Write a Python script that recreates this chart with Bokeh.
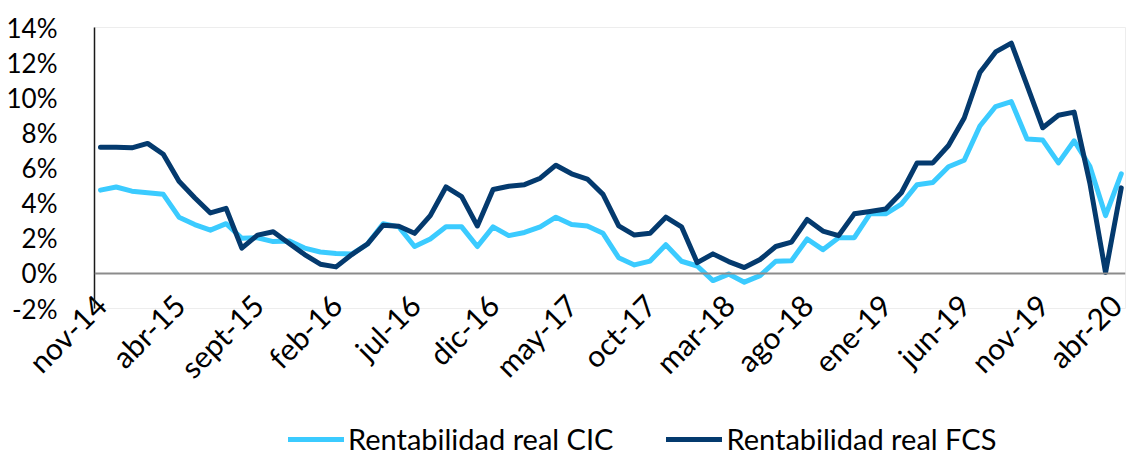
import math
from bokeh.plotting import figure
from bokeh.layouts import column
from bokeh.models import (Range1d, FixedTicker, PrintfTickFormatter, Span, Legend, LegendItem,
                          ColumnDataSource)
from bokeh.embed import file_html
from bokeh.resources import INLINE

months = ["nov-14", "dic-14",
          "ene-15", "feb-15", "mar-15", "abr-15", "may-15", "jun-15", "jul-15", "ago-15", "sept-15", "oct-15", "nov-15", "dic-15",
          "ene-16", "feb-16", "mar-16", "abr-16", "may-16", "jun-16", "jul-16", "ago-16", "sept-16", "oct-16", "nov-16", "dic-16",
          "ene-17", "feb-17", "mar-17", "abr-17", "may-17", "jun-17", "jul-17", "ago-17", "sept-17", "oct-17", "nov-17", "dic-17",
          "ene-18", "feb-18", "mar-18", "abr-18", "may-18", "jun-18", "jul-18", "ago-18", "sept-18", "oct-18", "nov-18", "dic-18",
          "ene-19", "feb-19", "mar-19", "abr-19", "may-19", "jun-19", "jul-19", "ago-19", "sept-19", "oct-19", "nov-19", "dic-19",
          "ene-20", "feb-20", "mar-20", "abr-20"]

cic = [4.74, 4.92, 4.68, 4.59, 4.50, 3.20, 2.78, 2.46, 2.83, 2.00,
       2.03, 1.81, 1.85, 1.44, 1.22, 1.13, 1.10, 1.67, 2.83, 2.65,
       1.53, 1.96, 2.65, 2.65, 1.53, 2.65, 2.15, 2.33, 2.65, 3.20,
       2.78, 2.70, 2.28, 0.89, 0.48, 0.70, 1.63, 0.69, 0.42, -0.41,
       -0.04, -0.50, -0.13, 0.69, 0.72, 1.96, 1.35, 2.03, 2.03, 3.39,
       3.39, 3.94, 5.05, 5.18, 6.07, 6.44, 8.39, 9.50, 9.78, 7.65,
       7.59, 6.29, 7.55, 6.10, 3.29, 5.67]

fcs = [7.18, 7.18, 7.15, 7.40, 6.78, 5.24, 4.31, 3.44, 3.70, 1.44,
       2.18, 2.37, 1.72, 1.07, 0.52, 0.37, 1.07, 1.67, 2.74, 2.68,
       2.28, 3.29, 4.92, 4.37, 2.70, 4.78, 4.96, 5.05, 5.42, 6.16,
       5.67, 5.37, 4.50, 2.70, 2.18, 2.28, 3.20, 2.65, 0.61, 1.11,
       0.67, 0.33, 0.79, 1.53, 1.78, 3.07, 2.41, 2.15, 3.39, 3.52,
       3.67, 4.59, 6.29, 6.29, 7.28, 8.85, 11.44, 12.61, 13.11, 10.70,
       8.29, 9.00, 9.18, 5.14, 0.05, 4.87]

series_names = ["Rentabilidad real CIC", "Rentabilidad real FCS"]
y_ticks = [-2, 0, 2, 4, 6, 8, 10, 12, 14]

FONT = "Lato"
LIGHT = "#3BCBFF"
DARK = "#043A6E"

x = list(range(len(months)))
src = ColumnDataSource(dict(x=x, cic=cic, fcs=fcs))

p = figure(width=1128, height=400, output_backend="svg", toolbar_location=None,
           x_range=Range1d(-0.38, 65.27), y_range=Range1d(-2, 14),
           min_border_left=94, min_border_right=3, min_border_top=27, min_border_bottom=84)

p.xgrid.visible = False
p.ygrid.visible = False
p.outline_line_color = "#EDEDED"
p.outline_line_width = 1

p.add_layout(Span(location=0, dimension="width", line_color="#8C8C8C", line_width=2))

r1 = p.line("x", "cic", source=src, line_color=LIGHT, line_width=5,
            line_join="round", line_cap="round")
r2 = p.line("x", "fcs", source=src, line_color=DARK, line_width=5,
            line_join="round", line_cap="round")

# y axis
p.yaxis.ticker = FixedTicker(ticks=y_ticks)
p.yaxis.formatter = PrintfTickFormatter(format="%d%%")
p.yaxis.axis_line_color = "#1a1a1a"
p.yaxis.axis_line_width = 1.5
p.yaxis.major_tick_line_color = None
p.yaxis.minor_tick_line_color = None
p.yaxis.major_label_standoff = 31
p.yaxis.major_label_text_font = FONT
p.yaxis.major_label_text_font_size = "26px"
p.yaxis.major_label_text_color = "#000000"

# x axis
tick_idx = list(range(0, len(months), 5))
p.xaxis.ticker = FixedTicker(ticks=tick_idx)
p.xaxis.major_label_overrides = {i: months[i] for i in tick_idx}
p.xaxis.major_label_orientation = math.pi / 4
p.xaxis.axis_line_color = None
p.xaxis.major_tick_line_color = None
p.xaxis.minor_tick_line_color = None
p.xaxis.major_label_standoff = -15
p.xaxis.major_label_text_font = FONT
p.xaxis.major_label_text_font_size = "30px"
p.xaxis.major_label_text_color = "#000000"

# legend strip below the chart (frame aligned with the chart's frame)
leg = figure(width=1128, height=56, output_backend="svg", toolbar_location=None,
             x_range=Range1d(0, 10), y_range=Range1d(0, 10),
             x_axis_type=None, y_axis_type=None,
             min_border_left=94, min_border_right=3, min_border_top=0, min_border_bottom=0)
leg.xgrid.visible = False
leg.ygrid.visible = False
leg.outline_line_color = None
l1 = leg.line(x=[-50, -40], y=[-50, -50], line_color=LIGHT, line_width=5, line_cap="round")
l2 = leg.line(x=[-50, -40], y=[-50, -50], line_color=DARK, line_width=5, line_cap="round")

legend = Legend(items=[LegendItem(label=series_names[0], renderers=[l1]),
                       LegendItem(label=series_names[1], renderers=[l2])],
                orientation="horizontal", location=(194, 0),
                glyph_width=56, glyph_height=26, label_height=26,
                label_standoff=4, spacing=53, padding=0, margin=0,
                border_line_color=None, background_fill_alpha=0,
                label_text_font=FONT, label_text_font_size="29px",
                label_text_color="#000000")
leg.add_layout(legend, "center")

layout = column(p, leg, spacing=0)
open("out.html", "w").write(file_html(layout, INLINE))
